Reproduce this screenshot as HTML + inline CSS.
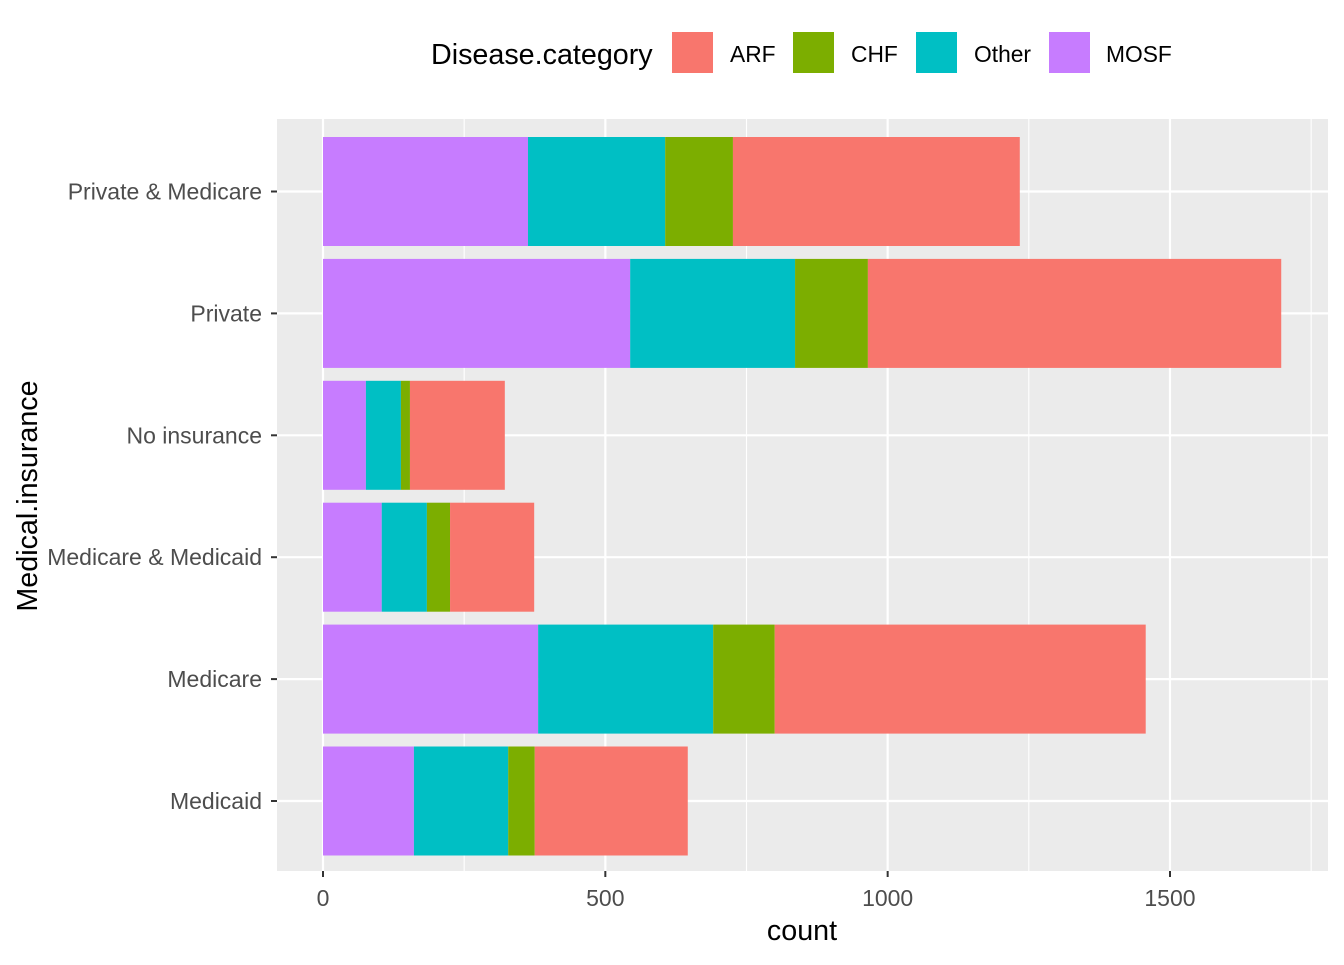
<!DOCTYPE html>
<html><head><meta charset="utf-8"><style>
body{margin:0;background:#fff;}
svg text{font-family:"Liberation Sans",Arial,sans-serif;}
</style></head><body>
<svg id="chart" width="1344" height="960" xmlns="http://www.w3.org/2000/svg">
<rect x="277" y="119" width="1051" height="752" fill="#EBEBEB"/>
<g id="grid"></g><g id="bars"></g><g id="axes"></g>
<text x="802" y="940" font-size="28.7" text-anchor="middle" fill="#000">count</text>
<text transform="translate(37,496) rotate(-90)" font-size="28.7" text-anchor="middle" fill="#000">Medical.insurance</text>
<g>
<text x="431" y="64" font-size="28.7" fill="#000">Disease.category</text>
<g><rect x="671" y="31" width="43" height="43" fill="#F8766D" stroke="#fff" stroke-width="2"/><text x="730" y="62" font-size="22.8">ARF</text></g>
<g><rect x="792" y="31" width="43" height="43" fill="#7CAE00" stroke="#fff" stroke-width="2"/><text x="851" y="62" font-size="22.8">CHF</text></g>
<g><rect x="915" y="31" width="43" height="43" fill="#00BFC4" stroke="#fff" stroke-width="2"/><text x="974" y="62" font-size="22.8">Other</text></g>
<g><rect x="1048" y="31" width="43" height="43" fill="#C77CFF" stroke="#fff" stroke-width="2"/><text x="1106" y="62" font-size="22.8">MOSF</text></g>
</g>
</svg>
<script>
const categories=["Medicaid","Medicare","Medicare & Medicaid","No insurance","Private","Private & Medicare"];
const mosf=[161,381,104,76,544,363];
const other=[167,310,80,62,292,243];
const chf=[47,109,41,16,129,120];
const arf=[271,657,149,168,732,508];
const xTicks=[0,500,1000,1500];
const xMinor=[250,750,1250,1750];
const NS="http://www.w3.org/2000/svg";
const x=v=>323+v*0.56466;
const y=i=>801-i*121.9;
const px0=277,px1=1328,py0=119,py1=871;
function mk(tag,attrs,parent){const e=document.createElementNS(NS,tag);for(const k in attrs)e.setAttribute(k,attrs[k]);document.getElementById(parent).appendChild(e);return e;}
xMinor.forEach(v=>{if(x(v)<px1){const l=mk('line',{x1:x(v),x2:x(v),y1:py0,y2:py1,stroke:'#fff','stroke-width':1.1},'grid');

}});
xTicks.forEach(v=>{const l=mk('line',{x1:x(v),x2:x(v),y1:py0,y2:py1,stroke:'#fff','stroke-width':2.2},'grid');


const t=mk('line',{x1:x(v),x2:x(v),y1:py1,y2:py1+6,stroke:'#333','stroke-width':2},'axes');


const tx=mk('text',{x:x(v),y:906,'font-size':23,'text-anchor':'middle',fill:'#4D4D4D'},'axes');tx.textContent=v;

});
const series=[["mosf",mosf,"#C77CFF"],["other",other,"#00BFC4"],["chf",chf,"#7CAE00"],["arf",arf,"#F8766D"]];
categories.forEach((c,i)=>{const l=mk('line',{x1:px0,x2:px1,y1:y(i),y2:y(i),stroke:'#fff','stroke-width':2.2},'grid');


const t=mk('line',{x1:px0-6,x2:px0,y1:y(i),y2:y(i),stroke:'#333','stroke-width':2},'axes');


const tx=mk('text',{x:262,y:y(i)+8,'font-size':23,'text-anchor':'end',fill:'#4D4D4D'},'axes');tx.textContent=c;


let cum=0;series.forEach(([n,arr,col])=>{const r=mk('rect',{x:x(cum),y:y(i)-54.5,width:x(cum+arr[i])-x(cum),height:109,fill:col},'bars');

cum+=arr[i];});});
</script>
</body></html>
